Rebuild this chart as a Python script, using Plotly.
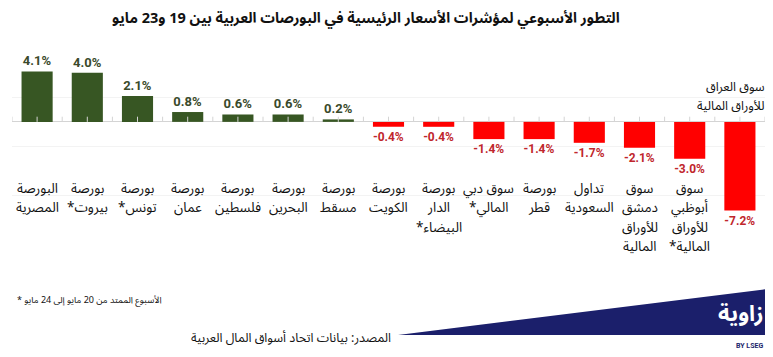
import plotly.graph_objects as go

categories = [
    "البورصة<br>المصرية",
    "بورصة<br>*بيروت",
    "بورصة<br>*تونس",
    "بورصة<br>عمان",
    "بورصة<br>فلسطين",
    "بورصة<br>البحرين",
    "بورصة<br>مسقط",
    "بورصة<br>الكويت",
    "بورصة<br>الدار<br>*البيضاء",
    "سوق دبي<br>*المالي",
    "بورصة<br>قطر",
    "تداول<br>السعودية",
    "سوق<br>دمشق<br>للأوراق<br>المالية",
    "سوق<br>أبوظبي<br>للأوراق<br>*المالية",
    "سوق العراق<br>للأوراق المالية",
]
values = [4.1, 4.0, 2.1, 0.8, 0.6, 0.6, 0.2, -0.4, -0.4, -1.4, -1.4, -1.7, -2.1, -3.0, -7.2]
value_labels = ["%.1f%%" % v for v in values]

title = "التطور الأسبوعي لمؤشرات الأسعار الرئيسية في البورصات العربية بين 19 و23 مايو"
footnote = "* الأسبوع الممتد من 20 مايو إلى 24 مايو"
source = "المصدر: بيانات اتحاد أسواق المال العربية"

GREEN = "#375623"
RED = "#ff0000"
GREEN_TXT = "#3a4a2b"
RED_TXT = "#c0262c"
NAVY = "#1b1f6b"
AR_FONT = "Noto Sans Arabic, Noto Naskh Arabic, Noto Kufi Arabic, DejaVu Sans, sans-serif"
NUM_FONT = "Roboto, Open Sans, sans-serif"

x = list(range(len(values)))
bar_colors = [GREEN if v >= 0 else RED for v in values]
txt_colors = [GREEN_TXT if v >= 0 else RED_TXT for v in values]

fig = go.Figure()
fig.add_trace(go.Bar(
    x=x, y=values, width=0.62,
    marker=dict(color=bar_colors, line=dict(width=0)),
    text=["<b>%s</b>" % t for t in value_labels],
    textposition="outside",
    textfont=dict(family=NUM_FONT, size=13, color=txt_colors),
    cliponaxis=False,
    hoverinfo="skip",
))

# The page body adds an 8px offset (and clips at its content width);
# work in window pixels and convert.
OFF = 8
W, H = 773 - 2 * OFF, 357 - OFF
PL, PR, PT, PB = 12, 765, 48, 245          # plot area in window pixels
ML, MR, MT, MB = PL - OFF, W - (PR - OFF), PT - OFF, H - (PB - OFF)


def px_x(p):
    return (p - PL) / (PR - PL)


def px_y(p):
    return (PB - p) / (PB - PT)


annotations = []
for i, c in enumerate(categories):
    lines = c.split("<br>")
    if i == len(categories) - 1:
        for j, line in enumerate(lines):
            annotations.append(dict(
                x=px_x(765), y=px_y(87 + 19 * j), xref="paper", yref="paper", text=line,
                showarrow=False, xanchor="right", yanchor="middle", align="right",
                borderpad=0, borderwidth=0,
                font=dict(family=AR_FONT, size=12.5, color="#111111"),
            ))
    else:
        for j, line in enumerate(lines):
            annotations.append(dict(
                x=i, y=px_y(188 + 19.5 * j), xref="x", yref="paper", text=line,
                showarrow=False, xanchor="center", yanchor="middle", align="center",
                borderpad=0, borderwidth=0,
                font=dict(family=AR_FONT, size=13.5, color="#111111"),
            ))

annotations.append(dict(
    x=px_x(366), y=px_y(18.5), xref="paper", yref="paper", text="<b>%s</b>" % title,
    showarrow=False, xanchor="center", yanchor="middle", borderpad=0, borderwidth=0,
    font=dict(family=AR_FONT, size=14.5, color="#111111"),
))
annotations.append(dict(
    x=px_x(15), y=px_y(300), xref="paper", yref="paper", text=footnote,
    showarrow=False, xanchor="left", yanchor="middle",
    font=dict(family=AR_FONT, size=9, color="#111111"),
))
annotations.append(dict(
    x=px_x(393), y=px_y(338), xref="paper", yref="paper", text=source,
    showarrow=False, xanchor="right", yanchor="middle",
    font=dict(family=AR_FONT, size=12.5, color="#111111"),
))
annotations.append(dict(
    x=px_x(766), y=px_y(314), xref="paper", yref="paper", text="<b>زاوية</b>",
    showarrow=False, xanchor="right", yanchor="middle",
    font=dict(family=AR_FONT, size=22, color="#ffffff"),
))
annotations.append(dict(
    x=px_x(765), y=px_y(346), xref="paper", yref="paper", text="<b>BY LSEG</b>",
    showarrow=False, xanchor="right", yanchor="middle",
    font=dict(family="Roboto, sans-serif", size=7, color=NAVY),
))

shapes = []
# small tick marks on the zero line
for k in range(2 * len(values) + 1):
    xv = -0.5 + 0.5 * k
    shapes.append(dict(type="line", xref="x", yref="y", x0=xv, x1=xv, y0=0, y1=0.42,
                       line=dict(color="#d4d4d4", width=1), layer="above"))
# logo wedge
shapes.append(dict(
    type="path", xref="paper", yref="paper",
    path="M %f,%f L %f,%f L %f,%f Z" % (px_x(398), px_y(335), px_x(768), px_y(289), px_x(768), px_y(335)),
    fillcolor=NAVY, line=dict(width=0), layer="below",
))

fig.update_layout(
    width=W, height=H,
    margin=dict(l=ML, r=MR, t=MT, b=MB, pad=0),
    paper_bgcolor="white", plot_bgcolor="white",
    showlegend=False,
    xaxis=dict(range=[-0.5, len(values) - 0.5], showticklabels=False, showgrid=False,
               zeroline=False, showline=False, ticks=""),
    yaxis=dict(range=[-10, 6], showticklabels=False, showgrid=True, gridcolor="#f3f3f3",
               gridwidth=1, tick0=2, dtick=4, zeroline=True, zerolinecolor="#d4d4d4",
               zerolinewidth=1, showline=False, ticks=""),
    annotations=annotations,
    shapes=shapes,
)

fig.write_html("out.html")
